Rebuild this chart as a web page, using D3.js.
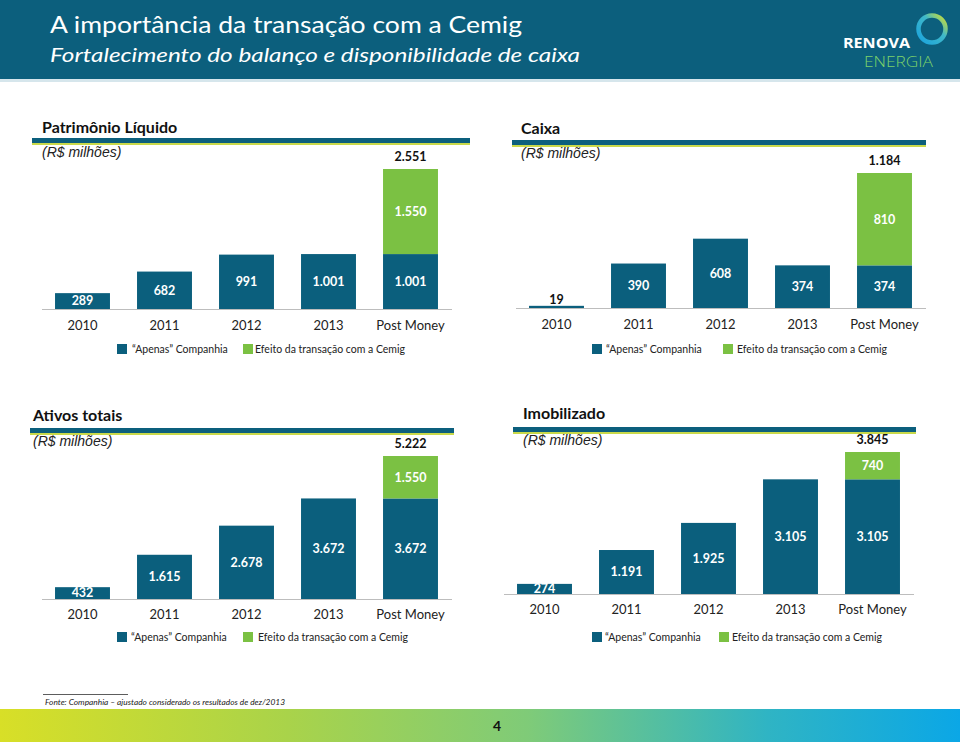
<!DOCTYPE html>
<html><head><meta charset="utf-8">
<script src="https://cdn.jsdelivr.net/npm/d3@7"></script>
<style>html,body{margin:0;padding:0;background:#fff}svg{display:block}</style>
</head><body>
<svg id="c" width="960" height="742"></svg>
<script>
const categories = ["2010", "2011", "2012", "2013", "Post Money"];
const plApenas = [289, 682, 991, 1001, 1001];
const plEfeito = [0, 0, 0, 0, 1550];
const caixaApenas = [19, 390, 608, 374, 374];
const caixaEfeito = [0, 0, 0, 0, 810];
const ativosApenas = [432, 1615, 2678, 3672, 3672];
const ativosEfeito = [0, 0, 0, 0, 1550];
const imobApenas = [274, 1191, 1925, 3105, 3105];
const imobEfeito = [0, 0, 0, 0, 740];
const seriesNames = ["\u201CApenas\u201D Companhia", "Efeito da transação com a Cemig"];

const BLUE = "#0b5f7d", GREEN = "#7bc143";
const FONT = "Lato, 'Open Sans', sans-serif";
const loc = d3.formatLocale({decimal: ",", thousands: ".", grouping: [3], currency: ["R$", ""]});
const fmt = loc.format(",d");

const svg = d3.select("#c");

// Header
svg.append("rect").attr("x", 0).attr("y", 0).attr("width", 960).attr("height", 79).attr("fill", "#0c5f7d");
svg.append("rect").attr("x", 0).attr("y", 79).attr("width", 960).attr("height", 3).attr("fill", "#d6e6ec");
svg.append("text").attr("x", 50).attr("y", 33).attr("fill", "#fff").attr("font-family", FONT)
  .attr("font-size", 24).attr("textLength", 472).attr("lengthAdjust", "spacingAndGlyphs")
  .text("A importância da transação com a Cemig");
svg.append("text").attr("x", 50).attr("y", 62).attr("fill", "#fff").attr("font-family", FONT)
  .attr("font-size", 20).attr("font-style", "italic").attr("textLength", 530).attr("lengthAdjust", "spacingAndGlyphs")
  .text("Fortalecimento do balanço e disponibilidade de caixa");

// Logo
const defs = svg.append("defs");
const rg = defs.append("linearGradient").attr("id", "ring").attr("x1", "0").attr("y1", "1").attr("x2", "1").attr("y2", "0");
rg.append("stop").attr("offset", "0").attr("stop-color", "#1aa3dd");
rg.append("stop").attr("offset", "0.6").attr("stop-color", "#3fb8c9");
rg.append("stop").attr("offset", "1").attr("stop-color", "#d6e02a");
svg.append("circle").attr("cx", 932).attr("cy", 29).attr("r", 13.5).attr("fill", "none")
  .attr("stroke", "url(#ring)").attr("stroke-width", 4.5);
svg.append("text").attr("x", 843).attr("y", 48).attr("fill", "#fff").attr("font-family", "'Open Sans', sans-serif")
  .attr("font-weight", "bold").attr("font-size", 15).attr("textLength", 67).attr("lengthAdjust", "spacingAndGlyphs").text("RENOVA");
svg.append("text").attr("x", 864).attr("y", 67).attr("fill", "#7ed36a").attr("font-family", "'Open Sans', sans-serif")
  .attr("font-weight", 300).attr("font-size", 14).attr("textLength", 69).attr("lengthAdjust", "spacingAndGlyphs").text("ENERGIA");

function drawChart(o) {
  const g = svg.append("g");
  g.append("text").attr("x", o.tx).attr("y", o.ty).attr("font-family", FONT).attr("font-weight", "bold")
    .attr("font-size", 16).attr("fill", "#111").text(o.title);
  g.append("rect").attr("x", o.rx0).attr("y", o.ry).attr("width", o.rx1 - o.rx0).attr("height", 5).attr("fill", "#0c5f7d");
  g.append("rect").attr("x", o.rx0).attr("y", o.ry + 5).attr("width", o.rx1 - o.rx0).attr("height", 2).attr("fill", "#c9d94a");
  g.append("text").attr("x", o.tx).attr("y", o.uy).attr("font-family", "'Liberation Sans', Arial, sans-serif")
    .attr("font-style", "italic").attr("font-size", 14).attr("fill", "#222").text("(R$ milhões)");

  const x = d3.scaleBand().domain(categories).range(o.xr).paddingInner(0.33).paddingOuter(0.165);
  const totals = o.apenas.map((v, i) => v + o.efeito[i]);
  const y = d3.scaleLinear().domain([0, d3.max(totals)]).range([o.base, o.top]);

  const stack = categories.map((c, i) => ({c, a: o.apenas[i], e: o.efeito[i]}));
  g.selectAll(".ba").data(stack).join("rect").attr("x", d => x(d.c)).attr("width", x.bandwidth())
    .attr("y", d => y(d.a)).attr("height", d => y(0) - y(d.a)).attr("fill", BLUE);
  g.selectAll(".be").data(stack.filter(d => d.e > 0)).join("rect").attr("x", d => x(d.c)).attr("width", x.bandwidth())
    .attr("y", d => y(d.a + d.e)).attr("height", d => y(d.a) - y(d.a + d.e)).attr("fill", GREEN);

  const axis = g.append("g").attr("transform", `translate(0,${o.base})`)
    .call(d3.axisBottom(x).tickSize(0).tickPadding(o.pad).tickSizeOuter(0));
  axis.select(".domain").attr("stroke", "#bdbdbd").attr("stroke-width", 1.2);
  axis.selectAll("text").attr("font-family", FONT).attr("font-size", 13).attr("fill", "#222");

  // value labels
  stack.forEach(d => {
    const h = y(0) - y(d.a);
    const small = h < 6;
    g.append("text").attr("x", x(d.c) + x.bandwidth() / 2)
      .attr("y", small ? y(d.a) - 6 : (y(0) + y(d.a)) / 2).attr("dy", "0.35em")
      .attr("text-anchor", "middle").attr("font-family", FONT).attr("font-weight", "bold").attr("font-size", 12.5)
      .attr("fill", small ? "#111" : "#fff").text(fmt(d.a));
    if (d.e > 0) {
      g.append("text").attr("x", x(d.c) + x.bandwidth() / 2).attr("y", (y(d.a) + y(d.a + d.e)) / 2).attr("dy", "0.35em")
        .attr("text-anchor", "middle").attr("font-family", FONT).attr("font-weight", "bold").attr("font-size", 12.5)
        .attr("fill", "#fff").text(fmt(d.e));
      g.append("text").attr("x", x(d.c) + x.bandwidth() / 2).attr("y", y(d.a + d.e) - 12).attr("dy", "0.35em")
        .attr("text-anchor", "middle").attr("font-family", FONT).attr("font-weight", "bold").attr("font-size", 12.5)
        .attr("fill", "#111").text(fmt(d.a + d.e));
    }
  });

  // legend
  const lg = g.append("g");
  [[o.lx[0], BLUE, seriesNames[0], o.lx[1]], [o.lx[2], GREEN, seriesNames[1], o.lx[3]]].forEach(([sx, col, name, tx]) => {
    lg.append("rect").attr("x", sx).attr("y", o.ly - 5).attr("width", 10).attr("height", 10).attr("fill", col);
    lg.append("text").attr("x", tx).attr("y", o.ly).attr("dy", "0.35em").attr("font-family", FONT)
      .attr("font-size", 10.5).attr("fill", "#222").text(name);
  });
}

drawChart({title: "Patrimônio Líquido", tx: 42, ty: 133, rx0: 32, rx1: 470, ry: 138, uy: 157,
  apenas: plApenas, efeito: plEfeito, xr: [41.5, 451.5], base: 309, top: 169, pad: 12,
  lx: [117, 132, 243, 255], ly: 349});
drawChart({title: "Caixa", tx: 521, ty: 134, rx0: 512, rx1: 926, ry: 140, uy: 158,
  apenas: caixaApenas, efeito: caixaEfeito, xr: [515.5, 925.5], base: 308, top: 173, pad: 12,
  lx: [592, 606, 723, 737], ly: 349});
drawChart({title: "Ativos totais", tx: 33, ty: 421, rx0: 30, rx1: 454, ry: 428, uy: 446,
  apenas: ativosApenas, efeito: ativosEfeito, xr: [41.5, 451.5], base: 599, top: 456, pad: 11,
  lx: [117, 131, 243, 258], ly: 637});
drawChart({title: "Imobilizado", tx: 523, ty: 419, rx0: 513, rx1: 916, ry: 427, uy: 445,
  apenas: imobApenas, efeito: imobEfeito, xr: [503.5, 913.5], base: 594, top: 452, pad: 11,
  lx: [592, 605, 719, 732], ly: 637});

// Footer
svg.append("line").attr("x1", 43).attr("x2", 128).attr("y1", 694.5).attr("y2", 694.5).attr("stroke", "#333").attr("stroke-width", 0.8);
svg.append("text").attr("x", 45).attr("y", 705).attr("font-family", FONT).attr("font-style", "italic")
  .attr("font-size", 8.5).attr("fill", "#222").attr("textLength", 240).attr("lengthAdjust", "spacingAndGlyphs")
  .text("Fonte: Companhia – ajustado considerado os resultados de dez/2013");
const fg = defs.append("linearGradient").attr("id", "foot").attr("x1", "0").attr("y1", "0").attr("x2", "1").attr("y2", "0");
fg.append("stop").attr("offset", "0").attr("stop-color", "#d8df27");
fg.append("stop").attr("offset", "0.3").attr("stop-color", "#a9d34a");
fg.append("stop").attr("offset", "0.55").attr("stop-color", "#7fcb78");
fg.append("stop").attr("offset", "0.8").attr("stop-color", "#2fb4c4");
fg.append("stop").attr("offset", "1").attr("stop-color", "#0ba7e6");
svg.append("rect").attr("x", 0).attr("y", 709).attr("width", 960).attr("height", 33).attr("fill", "url(#foot)");
svg.append("text").attr("x", 497).attr("y", 731).attr("text-anchor", "middle").attr("font-family", FONT)
  .attr("font-weight", "bold").attr("font-size", 14).attr("fill", "#111").text("4");
</script>
</body></html>
